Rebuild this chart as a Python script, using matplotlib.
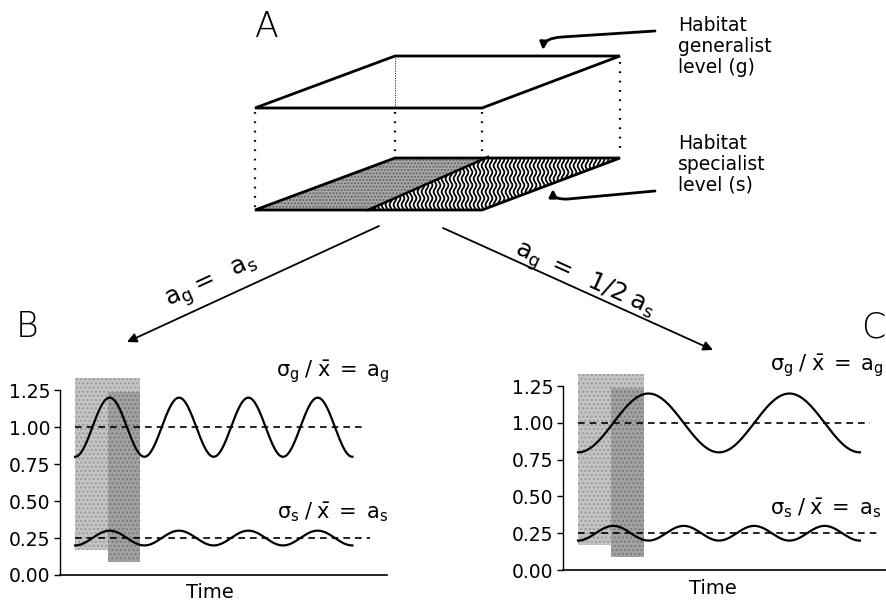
import numpy as np
import matplotlib
matplotlib.use("Agg")
import matplotlib.pyplot as plt
from matplotlib.patches import Polygon, Rectangle, FancyArrowPatch
from matplotlib.path import Path

plt.rcParams['font.family'] = ['DejaVu Sans']
plt.rcParams['mathtext.fontset'] = 'custom'
plt.rcParams['mathtext.rm'] = 'DejaVu Sans'
plt.rcParams['mathtext.it'] = 'DejaVu Sans'
plt.rcParams['mathtext.bf'] = 'DejaVu Sans'

# ---------------- data ----------------
y_ticks = [0.00, 0.25, 0.50, 0.75, 1.00, 1.25]
y_tick_labels = ["0.00", "0.25", "0.50", "0.75", "1.00", "1.25"]

time_span = [0.0, 4.0]            # time units (one specialist cycle = 1)
generalist_mean = 1.00
generalist_amp = 0.20
specialist_mean = 0.25
specialist_amp = 0.05
generalist_period_B = 1.0         # a_g = a_s
generalist_period_C = 2.0         # a_g = 1/2 a_s
specialist_period = 1.0

# shaded sampling windows: (t_start, t_end, low, high)
window_light = [0.00, 0.94, 0.17, 1.33]
window_dark = [0.47, 0.94, 0.09, 1.24]

dash_end_g = 4.15
dash_end_s = 4.25

panel_labels = ["A", "B", "C"]
label_g = r"$\sigma_{\rm g}\;/\;\bar{\rm x}\;=\;\rm a_{\rm g}$"
label_s = r"$\sigma_{\rm s}\;/\;\bar{\rm x}\;=\;\rm a_{\rm s}$"
arrow_label_left = r"$\rm a_g =\;\ a_s$"
arrow_label_right = r"$\rm a_g\;=\;\ 1/2\;a_s$"
habitat_g = "Habitat\ngeneralist\nlevel (g)"
habitat_s = "Habitat\nspecialist\nlevel (s)"

W, H = 886, 602
fig = plt.figure(figsize=(W / 100, H / 100), dpi=100)

# overlay in pixel coordinates for the schematic
ov = fig.add_axes([0, 0, 1, 1])
ov.set_xlim(0, W)
ov.set_ylim(H, 0)
ov.axis('off')
ov.set_zorder(0)

# ---- panel A : two habitat levels ----
top_front = [(255, 108), (482, 108)]
top_back = [(395, 56), (620, 56)]
dy_level = 102
top_poly = [top_front[0], top_front[1], top_back[1], top_back[0]]
ov.add_patch(Polygon(top_poly, closed=True, fill=False, ec='black', lw=2.0, joinstyle='miter'))

bot = [(x, y + dy_level) for (x, y) in top_poly]
split_front = (368, 210)
split_back = (488, 157)
left_poly = [bot[0], split_front, split_back, bot[3]]
right_poly = [split_front, bot[1], bot[2], split_back]
ov.add_patch(Polygon(left_poly, closed=True, fc='#a8a8a8', ec='#606060', hatch='.....', lw=0))
rp = Polygon(right_poly, closed=True, fc='white', ec='none')
ov.add_patch(rp)
# wavy vertical hatching in the right part
ys = np.linspace(157, 210, 160)
for x0 in np.arange(371, 624, 4.0):
    xs = x0 + 1.4 * np.sin(ys * 2 * np.pi / 13.0)
    ln, = ov.plot(xs, ys, color='black', lw=1.3)
    ln.set_clip_path(rp)
ov.add_patch(Polygon(bot, closed=True, fill=False, ec='black', lw=2.0, joinstyle='miter'))
ov.plot([split_front[0], split_back[0]], [split_front[1], split_back[1]], color='black', lw=1.8)

dot_style = dict(color='black', lw=1.6, linestyle=(0, (0.8, 3.4)))
ov.plot([255, 255], [112, 208], **dot_style)
ov.plot([482, 482], [112, 156], **dot_style)
ov.plot([395, 395], [112, 156], **dot_style)
ov.plot([620, 620], [62, 155], **dot_style)
ov.plot([395, 395], [58, 106], color='black', lw=0.7, linestyle=(0, (1, 1.5)))

# pointer arrows to labels
p1 = Path([(655, 31), (562, 37), (544, 38), (543, 50)],
          [Path.MOVETO, Path.LINETO, Path.CURVE3, Path.CURVE3])
ov.add_patch(FancyArrowPatch(path=p1, arrowstyle='-|>', mutation_scale=11, lw=2.0, color='black'))
p2 = Path([(655, 191), (568, 199), (553, 200), (553, 189)],
          [Path.MOVETO, Path.LINETO, Path.CURVE3, Path.CURVE3])
ov.add_patch(FancyArrowPatch(path=p2, arrowstyle='-|>', mutation_scale=11, lw=2.0, color='black'))

fig.text(678 / W, 1 - 16 / H, habitat_g, fontsize=13.5, va='top', ha='left', linespacing=1.13)
fig.text(678 / W, 1 - 134 / H, habitat_s, fontsize=13.5, va='top', ha='left', linespacing=1.13)

# main arrows to B and C
ov.add_patch(FancyArrowPatch((379, 226), (127, 342), arrowstyle='-|>', mutation_scale=14,
                             lw=1.3, color='black', shrinkA=0, shrinkB=0))
ov.add_patch(FancyArrowPatch((443, 228), (713, 350), arrowstyle='-|>', mutation_scale=14,
                             lw=1.3, color='black', shrinkA=0, shrinkB=0))
fig.text(212 / W, 1 - 283 / H, arrow_label_left, fontsize=18, rotation=24.7,
         ha='center', va='center', rotation_mode='anchor')
fig.text(584 / W, 1 - 280 / H, arrow_label_right, fontsize=18, rotation=-24.3,
         ha='center', va='center', rotation_mode='anchor')

# panel letters
fig.text(267 / W, 1 - 27 / H, panel_labels[0], fontsize=25, ha='center', va='center', fontweight='light')
fig.text(27 / W, 1 - 327 / H, panel_labels[1], fontsize=25, ha='center', va='center', fontweight='light')
fig.text(873 / W, 1 - 328 / H, panel_labels[2], fontsize=25, ha='center', va='center', fontweight='light')


def ax_rect(l, r, top, bottom):
    return [l / W, 1 - bottom / H, (r - l) / W, (bottom - top) / H]


def draw_panel(ax, g_period, xlim):
    ax.set_facecolor('none')
    ax.set_xlim(*xlim)
    ax.set_ylim(0, 1.36)
    for s in ['top', 'right']:
        ax.spines[s].set_visible(False)
    ax.spines['left'].set_bounds(0, 1.25)
    ax.spines['left'].set_linewidth(1.0)
    ax.spines['bottom'].set_linewidth(1.2)
    ax.set_xticks([])
    ax.set_yticks(y_ticks)
    ax.set_yticklabels(y_tick_labels)
    ax.tick_params(axis='y', direction='out', length=4, width=1.0, pad=3, labelsize=13.5)
    t0, t1, lo, hi = window_light
    ax.add_patch(Rectangle((t0, lo), t1 - t0, hi - lo, fc='#c4c4c4', ec='#9a9a9a',
                           hatch='....', lw=0, clip_on=False, zorder=1))
    t0, t1, lo, hi = window_dark
    ax.add_patch(Rectangle((t0, lo), t1 - t0, hi - lo, fc='#a2a2a2', ec='#7a7a7a',
                           hatch='....', lw=0, clip_on=False, zorder=1.5))
    t = np.linspace(time_span[0], time_span[1], 600)
    g = generalist_mean - generalist_amp * np.cos(2 * np.pi * t / g_period)
    s = specialist_mean - specialist_amp * np.cos(2 * np.pi * t / specialist_period)
    ax.plot(t, g, color='black', lw=1.6, zorder=3, clip_on=False)
    ax.plot(t, s, color='black', lw=1.6, zorder=3, clip_on=False)
    ax.plot([0, dash_end_g], [generalist_mean] * 2, color='black', lw=1.2,
            linestyle=(0, (4, 3)), zorder=2.5)
    ax.plot([0, dash_end_s], [specialist_mean] * 2, color='black', lw=1.2,
            linestyle=(0, (4, 3)), zorder=2.5)


axB = fig.add_axes(ax_rect(60, 387, 374, 575))
axB.set_zorder(1)
draw_panel(axB, generalist_period_B, (-0.217, 4.5))
axC = fig.add_axes(ax_rect(563, 886, 370, 570))
axC.set_zorder(1)
draw_panel(axC, generalist_period_C, (-0.213, 4.37))

fig.text(333 / W, 1 - 372 / H, label_g, fontsize=15, ha='center', va='center')
fig.text(333 / W, 1 - 512 / H, label_s, fontsize=15, ha='center', va='center')
fig.text(770 / W, 1 - 366 / H, label_g, fontsize=15, ha='left', va='center')
fig.text(770 / W, 1 - 508 / H, label_s, fontsize=15, ha='left', va='center')
fig.text(210 / W, 1 - 592 / H, "Time", fontsize=14, ha='center', va='center')
fig.text(713 / W, 1 - 588 / H, "Time", fontsize=14, ha='center', va='center')

fig.savefig("out.png", dpi=100)
